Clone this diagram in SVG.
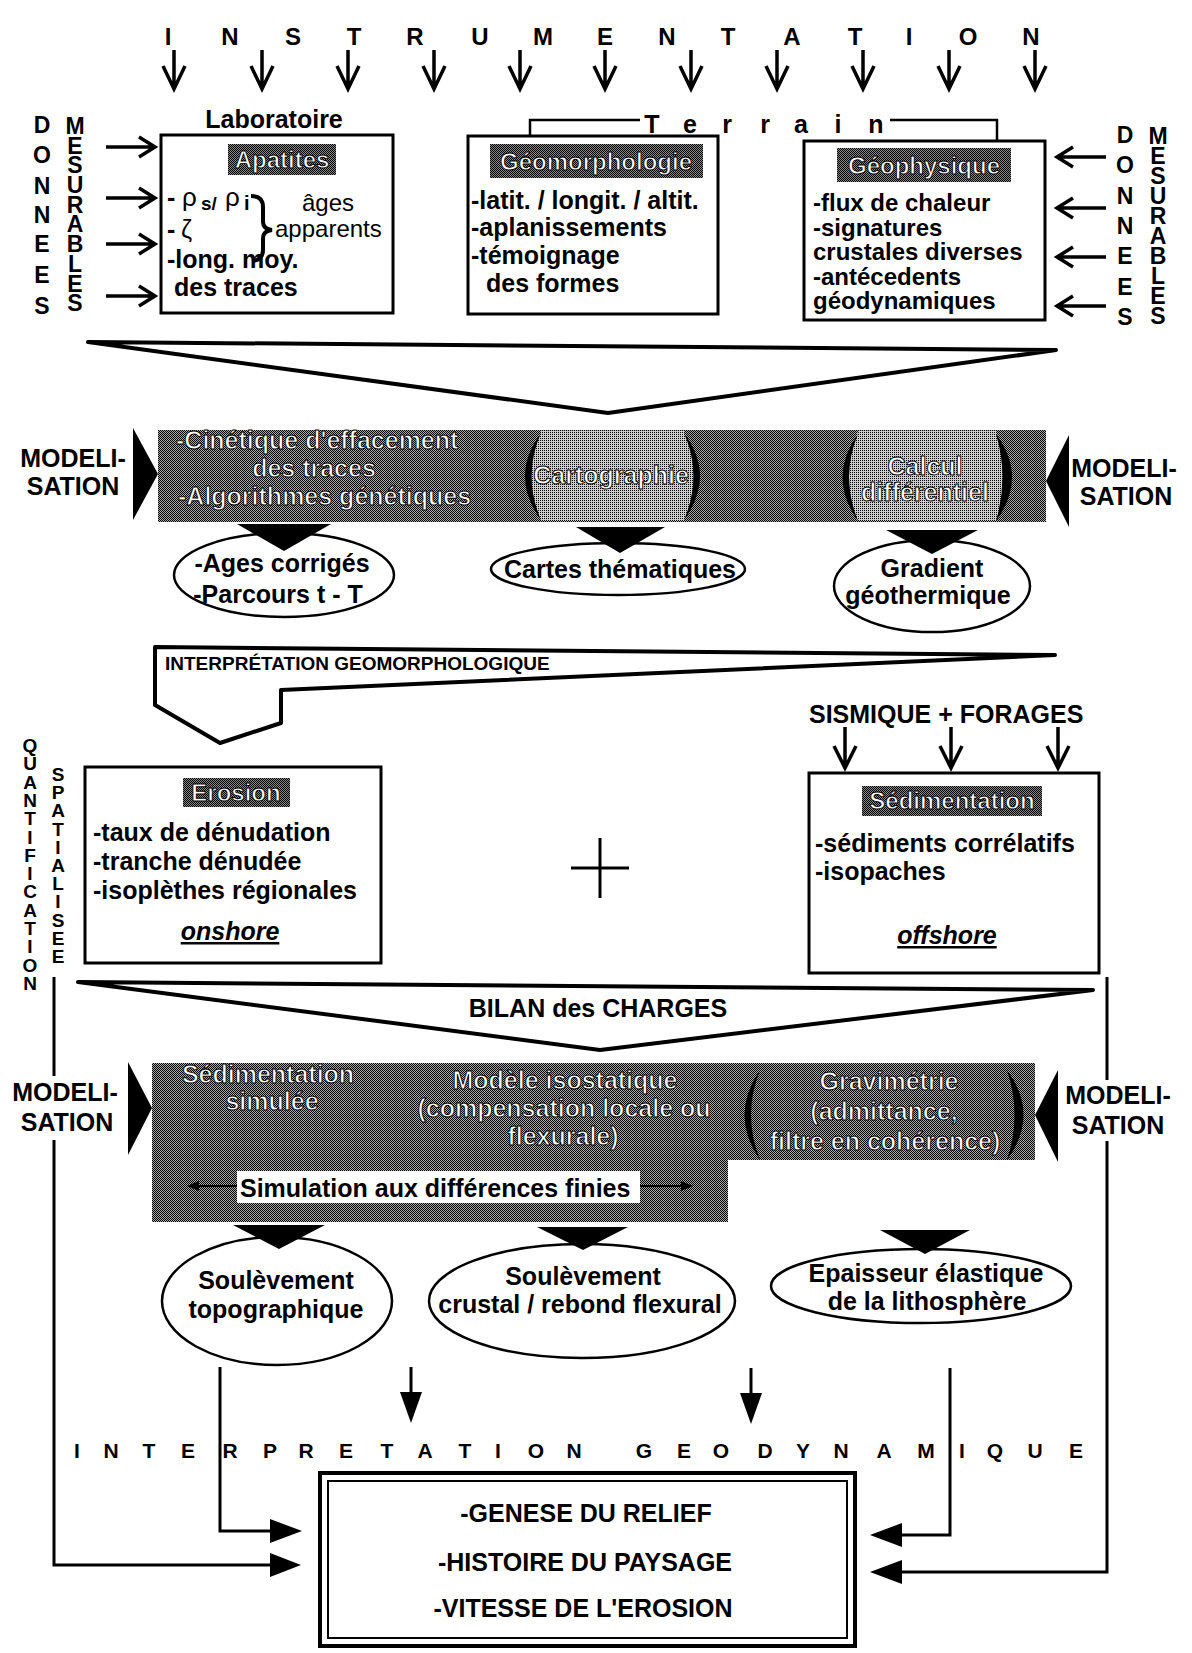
<svg xmlns="http://www.w3.org/2000/svg" width="1192" height="1653" viewBox="0 0 1192 1653">
<style>
.t{font-family:"Liberation Sans",Arial,sans-serif;font-weight:bold;font-size:25px;fill:#000}
.r{font-weight:normal}
.c{text-anchor:middle}
.w{fill:#fff;stroke:#000;stroke-width:0.9px}
.v{font-size:23px;text-anchor:middle}
.s{font-size:21px;text-anchor:middle}
.q{font-size:19px;text-anchor:middle}
.box{fill:#fff;stroke:#000;stroke-width:3}
.ln{fill:none;stroke:#000;stroke-width:4;stroke-linejoin:round}
.thin{fill:none;stroke:#000;stroke-width:3}
.ar{fill:none;stroke:#000;stroke-width:3.5}
.el{fill:#fff;stroke:#000;stroke-width:2.5}
.blk{fill:#000}
</style>
<defs>
<pattern id="dk" width="2" height="2" patternUnits="userSpaceOnUse"><rect width="2" height="2" fill="#aaa"/><rect width="1" height="1" fill="#000"/><rect x="1" y="1" width="1" height="1" fill="#000"/></pattern>
<pattern id="lt" width="2" height="2" patternUnits="userSpaceOnUse"><rect width="2" height="2" fill="#ccc"/><rect width="1" height="1" fill="#000"/></pattern>
<pattern id="lb" width="2" height="2" patternUnits="userSpaceOnUse"><rect width="2" height="2" fill="#888"/><rect width="1" height="1" fill="#000"/><rect x="1" y="1" width="1" height="1" fill="#000"/></pattern>
</defs>
<rect width="1192" height="1653" fill="#fff"/>

<g id="instrumentation">
<text class="t s" style="font-size:24px" x="168" y="45">I</text>
<text class="t s" style="font-size:24px" x="230" y="45">N</text>
<text class="t s" style="font-size:24px" x="293" y="45">S</text>
<text class="t s" style="font-size:24px" x="354" y="45">T</text>
<text class="t s" style="font-size:24px" x="415" y="45">R</text>
<text class="t s" style="font-size:24px" x="480" y="45">U</text>
<text class="t s" style="font-size:24px" x="543" y="45">M</text>
<text class="t s" style="font-size:24px" x="605" y="45">E</text>
<text class="t s" style="font-size:24px" x="667" y="45">N</text>
<text class="t s" style="font-size:24px" x="728" y="45">T</text>
<text class="t s" style="font-size:24px" x="792" y="45">A</text>
<text class="t s" style="font-size:24px" x="855" y="45">T</text>
<text class="t s" style="font-size:24px" x="909" y="45">I</text>
<text class="t s" style="font-size:24px" x="968" y="45">O</text>
<text class="t s" style="font-size:24px" x="1031" y="45">N</text>
</g>

<g id="donnees-left">
<text class="t v" x="42 42 42 42 42 42 42" y="133 163 194 223 252 283 314">DONNEES</text>
<text class="t v" x="75 75 75 75 75 75 75 75 75 75" y="134 154 173 193 213 232 252 272 292 311">MESURABLES</text>
</g>
<g id="donnees-right">
<text class="t v" x="1125 1125 1125 1125 1125 1125 1125" y="143 173 204 234 264 295 325">DONNEES</text>
<text class="t v" x="1158 1158 1158 1158 1158 1158 1158 1158 1158 1158" y="144 164 184 204 224 244 264 284 304 324">MESURABLES</text>
</g>

<g id="laboratoire">
<text class="t c" x="274" y="128">Laboratoire</text>
<rect class="box" x="161" y="135" width="232" height="178"/>
<rect x="228" y="144" width="108" height="31" fill="url(#lb)"/>
<text class="t c w" x="282" y="168" style="font-size:24px">Apatites</text>
<text class="t" x="167" y="206">-<tspan class="r" x="182" style="font-size:26px">ρ</tspan><tspan x="201" dy="4" style="font-size:19px">s/</tspan><tspan class="r" x="225" dy="-4" style="font-size:26px">ρ</tspan><tspan x="244" dy="4" style="font-size:20px">i</tspan></text>
<text class="t" x="167" y="238">-<tspan class="r" x="181" style="font-size:25px">ζ</tspan></text>
<path d="M251 196 Q263 196 263 207 L263 222 Q263 229 272 230 Q263 231 263 238 L263 250 Q263 260 252 261" fill="none" stroke="#000" stroke-width="4"/>
<text class="t r" x="302" y="211" style="font-size:24px">âges</text>
<text class="t r" x="275" y="237" style="font-size:24px">apparents</text>
<text class="t" x="167" y="268">-long. moy.</text>
<text class="t" x="174" y="296">des traces</text>
</g>

<g id="terrain">
<path class="thin" d="M530 135 V120 H640 M890 120 H997 V141" style="stroke-width:2.5"/>
<text class="t c" x="652" y="133">T</text><text class="t c" x="690" y="133">e</text><text class="t c" x="727" y="133">r</text><text class="t c" x="765" y="133">r</text><text class="t c" x="801" y="133">a</text><text class="t c" x="838" y="133">i</text><text class="t c" x="876" y="133">n</text>
</g>

<g id="geomorphologie">
<rect class="box" x="468" y="136" width="250" height="178"/>
<rect x="490" y="144" width="213" height="34" fill="url(#lb)"/>
<text class="t c w" x="596" y="170" style="font-size:24px">Géomorphologie</text>
<text class="t" x="471" y="209">-latit. / longit. / altit.</text>
<text class="t" x="471" y="236">-aplanissements</text>
<text class="t" x="471" y="264">-témoignage</text>
<text class="t" x="486" y="292">des formes</text>
</g>

<g id="geophysique">
<rect class="box" x="804" y="141" width="241" height="179"/>
<rect x="837" y="148" width="174" height="34" fill="url(#lb)"/>
<text class="t c w" x="924" y="174" style="font-size:24px">Géophysique</text>
<text class="t" x="813" y="211" style="font-size:24px">-flux de chaleur</text>
<text class="t" x="813" y="235.5" style="font-size:24px">-signatures</text>
<text class="t" x="813" y="260" style="font-size:24px">crustales diverses</text>
<text class="t" x="813" y="284.5" style="font-size:24px">-antécedents</text>
<text class="t" x="813" y="309" style="font-size:24px">géodynamiques</text>
</g>

<g id="modelisation-1">
<rect x="158" y="430" width="888" height="92" fill="url(#dk)"/>
<path d="M541 431 Q522 476 541 521 L684 521 Q703 476 684 431 Z" fill="url(#lt)"/>
<path d="M858 431 Q840 476 858 521 L996 521 Q1010 476 996 431 Z" fill="url(#lt)"/>
<path class="blk" d="M541 433 Q509 476 541 520 Q522 476 541 433 Z"/>
<path class="blk" d="M684 433 Q716 476 684 520 Q703 476 684 433 Z"/>
<path class="blk" d="M858 434 Q827 477 858 521 Q840 477 858 434 Z"/>
<path class="blk" d="M996 434 Q1028 477 996 521 Q1009 477 996 434 Z"/>
<text class="t w" x="176" y="449">-Cinétique d'effacement</text>
<text class="t c w" x="314" y="477">des traces</text>
<text class="t w" x="178" y="505">-Algorithmes génétiques</text>
<text class="t c w" x="611" y="484">Cartographie</text>
<text class="t c w" x="925" y="475">Calcul</text>
<text class="t c w" x="925" y="501">différentiel</text>
<polygon class="blk" points="133,428 158,474 133,520"/>
<polygon class="blk" points="1069,435 1046,481 1069,527"/>
<text class="t c" x="73" y="467">MODELI-</text>
<text class="t c" x="73" y="495">SATION</text>
<text class="t c" x="1124" y="477">MODELI-</text>
<text class="t c" x="1126" y="505">SATION</text>
</g>

<g id="resultats-1">
<ellipse class="el" cx="284" cy="575" rx="110" ry="42"/>
<text class="t c" x="282" y="572">-Ages corrigés</text>
<text class="t c" x="278" y="603">-Parcours t - T</text>
<ellipse class="el" cx="618" cy="569" rx="127" ry="26"/>
<text class="t c" x="620" y="578">Cartes thématiques</text>
<ellipse class="el" cx="932" cy="586" rx="98" ry="46"/>
<text class="t c" x="932" y="577">Gradient</text>
<text class="t c" x="928" y="604">géothermique</text>
<polygon class="blk" points="237,524 331,524 284,551"/>
<polygon class="blk" points="576,527 665,527 620,553"/>
<polygon class="blk" points="886,530 978,530 932,554"/>
</g>

<g id="erosion">
<rect class="box" x="85" y="767" width="296" height="196"/>
<rect x="183" y="778" width="107" height="29" fill="url(#lb)"/>
<text class="t c w" x="236" y="801" style="font-size:24px">Erosion</text>
<text class="t" x="93" y="841">-taux de dénudation</text>
<text class="t" x="93" y="870">-tranche dénudée</text>
<text class="t" x="93" y="899">-isoplèthes régionales</text>
<text class="t c" x="230" y="940" font-style="italic" text-decoration="underline">onshore</text>
</g>

<g id="sedimentation">
<text class="t" x="809" y="723">SISMIQUE + FORAGES</text>
<rect class="box" x="809" y="773" width="290" height="200"/>
<rect x="862" y="786" width="180" height="30" fill="url(#lb)"/>
<text class="t c w" x="952" y="809" style="font-size:24px">Sédimentation</text>
<text class="t" x="815" y="852">-sédiments corrélatifs</text>
<text class="t" x="815" y="880">-isopaches</text>
<text class="t c" x="947" y="944" font-style="italic" text-decoration="underline">offshore</text>
</g>

<g id="quantification">
<text class="t q" x="30 30 30 30 30 30 30 30 30 30 30 30 30 30" y="752 770 789 807 825 844 862 880 898 917 935 953 972 990">QUANTIFICATION</text>
<text class="t q" x="58 58 58 58 58 58 58 58 58 58 58" y="781 799 817 836 854 872 890 908 927 945 963">SPATIALISEE</text>
</g>

<g id="plus">
<path class="thin" d="M571 868 H629 M600 838 V898"/>
</g>

<g id="modelisation-2">
<polygon points="152,1063 1035,1063 1035,1160 728,1160 728,1222 152,1222" fill="url(#dk)"/>
<path class="blk" d="M760 1070 Q729 1115 760 1160 Q742 1115 760 1070 Z"/>
<path class="blk" d="M1007 1070 Q1040 1115 1007 1160 Q1022 1115 1007 1070 Z"/>
<text class="t c w" x="268" y="1083">Sédimentation</text>
<text class="t c w" x="272" y="1110">simulée</text>
<text class="t c w" x="565" y="1089">Modèle isostatique</text>
<text class="t c w" x="564" y="1117">(compensation locale ou</text>
<text class="t c w" x="563" y="1145">flexurale)</text>
<text class="t c w" x="889" y="1090">Gravimétrie</text>
<text class="t c w" x="884" y="1120">(admittance,</text>
<text class="t c w" x="885" y="1150">filtre en cohérence)</text>
<rect x="237" y="1171" width="403" height="32" fill="#fff"/>
<text class="t" x="240" y="1197">Simulation aux différences finies</text>
<path d="M237 1186 H196 M640 1186 H684" stroke="#000" stroke-width="2"/>
<polygon class="blk" points="187,1186 199,1181 199,1191"/>
<polygon class="blk" points="693,1186 681,1181 681,1191"/>
<polygon class="blk" points="128,1062 152,1108 128,1155"/>
<polygon class="blk" points="1058,1070 1035,1115 1058,1162"/>
<text class="t c" x="65" y="1101">MODELI-</text>
<text class="t c" x="67" y="1131">SATION</text>
<text class="t c" x="1118" y="1104">MODELI-</text>
<text class="t c" x="1118" y="1134">SATION</text>
</g>

<g id="resultats-2">
<ellipse class="el" cx="277" cy="1301" rx="115" ry="64"/>
<text class="t c" x="276" y="1289">Soulèvement</text>
<text class="t c" x="276" y="1318">topographique</text>
<ellipse class="el" cx="582" cy="1301" rx="153" ry="57"/>
<text class="t c" x="583" y="1285">Soulèvement</text>
<text class="t c" x="580" y="1313">crustal / rebond flexural</text>
<ellipse class="el" cx="921" cy="1286" rx="150" ry="37"/>
<text class="t c" x="926" y="1282">Epaisseur élastique</text>
<text class="t c" x="927" y="1310">de la lithosphère</text>
<polygon class="blk" points="233,1225 325,1225 279,1249"/>
<polygon class="blk" points="537,1227 628,1227 583,1250"/>
<polygon class="blk" points="880,1230 970,1230 925,1254"/>
</g>

<g id="interpretation-geodynamique">
<text class="t s" x="77" y="1458">I</text><text class="t s" x="111" y="1458">N</text><text class="t s" x="149" y="1458">T</text><text class="t s" x="188" y="1458">E</text><text class="t s" x="230" y="1458">R</text><text class="t s" x="270" y="1458">P</text><text class="t s" x="306" y="1458">R</text><text class="t s" x="346" y="1458">E</text><text class="t s" x="387" y="1458">T</text><text class="t s" x="425" y="1458">A</text><text class="t s" x="465" y="1458">T</text><text class="t s" x="498" y="1458">I</text><text class="t s" x="536" y="1458">O</text><text class="t s" x="574" y="1458">N</text>
<text class="t s" x="644" y="1458">G</text><text class="t s" x="684" y="1458">E</text><text class="t s" x="721" y="1458">O</text><text class="t s" x="765" y="1458">D</text><text class="t s" x="803" y="1458">Y</text><text class="t s" x="841" y="1458">N</text><text class="t s" x="884" y="1458">A</text><text class="t s" x="926" y="1458">M</text><text class="t s" x="962" y="1458">I</text><text class="t s" x="995" y="1458">Q</text><text class="t s" x="1035" y="1458">U</text><text class="t s" x="1076" y="1458">E</text>
</g>

<g id="synthese">
<rect x="320" y="1473" width="535" height="173" fill="#fff" stroke="#000" stroke-width="4"/>
<rect x="328" y="1481" width="519" height="157" fill="none" stroke="#000" stroke-width="2"/>
<text class="t c" x="586" y="1522">-GENESE DU RELIEF</text>
<text class="t c" x="585" y="1571">-HISTOIRE DU PAYSAGE</text>
<text class="t c" x="583" y="1617">-VITESSE DE L'EROSION</text>
</g>

<g id="connectors">
<path class="ar" d="M174 50V88M163 66L174 89L185 66 M262 50V88M251 66L262 89L273 66 M348 50V88M337 66L348 89L359 66 M434 50V88M423 66L434 89L445 66 M520 50V88M509 66L520 89L531 66 M605 50V88M594 66L605 89L616 66 M691 50V88M680 66L691 89L702 66 M777 50V88M766 66L777 89L788 66 M863 50V88M852 66L863 89L874 66 M949 50V88M938 66L949 89L960 66 M1035 50V88M1024 66L1035 89L1046 66"/>
<path class="ar" d="M106 147H154M139 137L155 147L139 157 M106 198H154M139 188L155 198L139 208 M106 244H154M139 234L155 244L139 254 M106 296H154M139 286L155 296L139 306"/>
<path class="ar" d="M1106 157H1058M1073 147L1057 157L1073 167 M1106 208H1058M1073 198L1057 208L1073 218 M1106 257H1058M1073 247L1057 257L1073 267 M1106 306H1058M1073 296L1057 306L1073 316"/>
<polygon class="ln" points="88,342 1056,350 608,413"/>
<polygon class="ln" points="155,647 1055,655 281,690 281,723 220,743 155,705"/>
<text class="t" x="165" y="670" style="font-size:19px">INTERPRÉTATION GEOMORPHOLOGIQUE</text>
<path class="ar" d="M845 727V767M834 746L845 768L856 746 M951 727V767M940 746L951 768L962 746 M1058 727V767M1047 746L1058 768L1069 746"/>
<polygon class="ln" points="78,982 1093,990 600,1050"/>
<text class="t c" x="598" y="1017">BILAN des CHARGES</text>
<path class="thin" d="M54 977V1076 M54 1140V1565H272 M1107 977V1080 M1107 1141V1572H900 M220 1367V1531H272 M950 1368V1535H900 M411 1367V1395 M751 1368V1396"/>
<polygon class="blk" points="270,1553 301,1565 270,1577"/>
<polygon class="blk" points="270,1519 302,1531 270,1543"/>
<polygon class="blk" points="902,1523 870,1535 902,1547"/>
<polygon class="blk" points="902,1560 870,1572 902,1584"/>
<polygon class="blk" points="400,1392 422,1392 411,1423"/>
<polygon class="blk" points="740,1393 762,1393 751,1424"/>
</g>
</svg>
